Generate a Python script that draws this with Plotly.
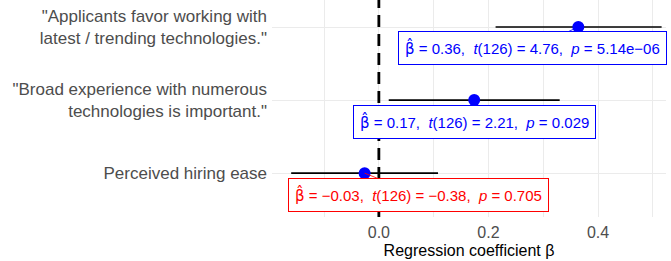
import plotly.graph_objects as go

# ---- data ----
predictors = ['"Applicants favor working with<br>latest / trending technologies."',
              '"Broad experience with numerous<br>technologies is important."',
              'Perceived hiring ease']
estimates = [0.364, 0.174, -0.026]
ci_low = [0.213, 0.018, -0.160]
ci_high = [0.516, 0.330, 0.108]
beta_text = ["0.36", "0.17", "−0.03"]
t_text = ["4.76", "2.21", "−0.38"]
p_values = ["5.14e−06", "0.029", "0.705"]
df_resid = 126
label_colors = ["#0000FF", "#0000FF", "#FF0000"]
xticks = [0.0, 0.2, 0.4]
xminor = [-0.1, 0.1, 0.3, 0.5]
ref_line = 0

ypos = [2, 1, 0]
YRANGE = [-0.6, 2.37]
FONT = "Liberation Sans, Arial, sans-serif"

fig = go.Figure()
# reference line at zero
fig.add_trace(go.Scatter(
    x=[ref_line, ref_line], y=YRANGE, mode="lines",
    line=dict(color="black", width=2.8, dash="12px,7px"),
    showlegend=False, hoverinfo="skip"))
fig.add_trace(go.Scatter(
    x=estimates, y=ypos, mode="markers",
    marker=dict(color="#0000FF", size=12),
    error_x=dict(type="data", symmetric=False,
                 array=[h - e for h, e in zip(ci_high, estimates)],
                 arrayminus=[e - l for l, e in zip(ci_low, estimates)],
                 color="black", thickness=1.6, width=0),
    showlegend=False, hoverinfo="skip"))

offsets = [(-46, 21), (0, 22), (54, 21.5)]
for i in range(3):
    txt = (f"<span style='font-family:DejaVu Sans'>β\u0302</span> = {beta_text[i]},  "
           f"<i>t</i>({df_resid}) = {t_text[i]},  <i>p</i> = {p_values[i]}")
    fig.add_annotation(
        x=estimates[i], y=ypos[i], xref="x", yref="y",
        text=txt, showarrow=True, arrowhead=0, arrowwidth=0.8,
        arrowcolor=label_colors[i],
        ax=offsets[i][0], ay=offsets[i][1],
        font=dict(family=FONT, size=15, color=label_colors[i]),
        bgcolor="white", bordercolor=label_colors[i], borderwidth=1, borderpad=6)

fig.update_layout(
    width=671, height=261,
    margin=dict(l=272, r=5, t=0, b=44),
    paper_bgcolor="white", plot_bgcolor="white",
    font=dict(family=FONT),
    xaxis=dict(range=[-0.195, 0.524], tickvals=xticks, ticktext=[f"{v:.1f}" for v in xticks],
               showgrid=True, gridcolor="#EBEBEB", gridwidth=1.1, zeroline=False,
               tickfont=dict(size=16, color="#4D4D4D"), ticks="", showline=False,
               ticklabelstandoff=4,
               minor=dict(tickvals=xminor, showgrid=True, gridcolor="#EBEBEB", gridwidth=0.6),
               title=dict(text="Regression coefficient β", font=dict(size=16, color="black"), standoff=4)),
    yaxis=dict(range=YRANGE, tickvals=ypos, ticktext=predictors,
               showgrid=True, gridcolor="#EBEBEB", gridwidth=1.1, zeroline=False,
               tickfont=dict(size=17, color="#4D4D4D"), ticks="", ticklabelstandoff=4),
)

fig.write_html("out.html", config={"displayModeBar": False},
               post_script="document.body.style.margin='0';")
